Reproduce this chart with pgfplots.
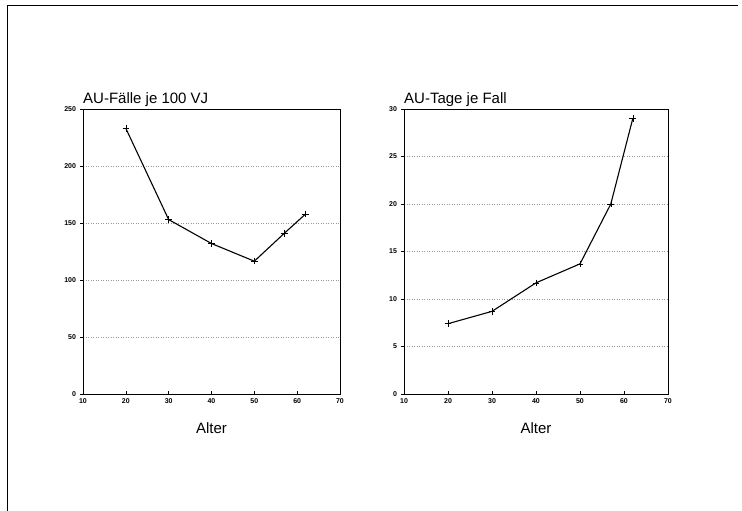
\documentclass[border=0pt]{standalone}
\usepackage{fontspec}
\setmainfont{Liberation Sans}
\usepackage{pgfplots}
\pgfplotsset{compat=1.18}
\begin{document}
\begin{tikzpicture}
\useasboundingbox (0pt,0pt) rectangle (742pt,-511pt);
\draw[line width=0.9pt] (7pt,-511pt) -- (7pt,-5pt) -- (738pt,-5pt);
\pgfplotsset{
  panel/.style={
    scale only axis,
    anchor=south west,
    xmin=10, xmax=70, ymin=0,
    xtick={10,20,...,70},
    xtick pos=bottom, ytick pos=left,
    xtick align=inside, ytick align=outside,
    major tick length=3pt,
    tick style={black, line width=0.5pt},
    axis line style={line width=0.9pt},
    ticklabel style={font=\fontsize{7}{8}\selectfont\bfseries},
    /pgf/number format/assume math mode=true,
    xticklabel style={yshift=-1.5pt},
    yticklabel style={xshift=-0.5pt},
    ymajorgrids,
    grid style={gray!80, dash pattern=on 0.7pt off 1.8pt, line width=0.5pt},
    clip=false,
  }
}
\begin{axis}[panel, at={(83pt,-394pt)}, width=257pt, height=285pt,
  ymax=250, ytick={0,50,...,250}]
\addplot[black, line width=1.1pt, mark=+, mark size=3.3pt, mark options={line width=0.5pt}]
  coordinates {(20,233) (30,153) (40,132) (50,116.5) (57,141) (62,158)};
\node[anchor=base west, font=\fontsize{15}{17}\selectfont, inner sep=0pt] at (rel axis cs:0,1) [yshift=6pt] {AU-Fälle je 100 VJ};
\node[anchor=base, font=\fontsize{15}{17}\selectfont, inner sep=0pt] at (rel axis cs:0.5,0) [yshift=-39pt] {Alter};
\end{axis}
\begin{axis}[panel, at={(404pt,-394pt)}, width=264pt, height=285pt,
  ymax=30, ytick={0,5,...,30}]
\addplot[black, line width=1.1pt, mark=+, mark size=3.3pt, mark options={line width=0.5pt}]
  coordinates {(20,7.4) (30,8.7) (40,11.7) (50,13.7) (57,20) (62,29)};
\node[anchor=base west, font=\fontsize{15}{17}\selectfont, inner sep=0pt] at (rel axis cs:0,1) [yshift=6pt] {AU-Tage je Fall};
\node[anchor=base, font=\fontsize{15}{17}\selectfont, inner sep=0pt] at (rel axis cs:0.5,0) [yshift=-39pt] {Alter};
\end{axis}
\end{tikzpicture}
\end{document}
